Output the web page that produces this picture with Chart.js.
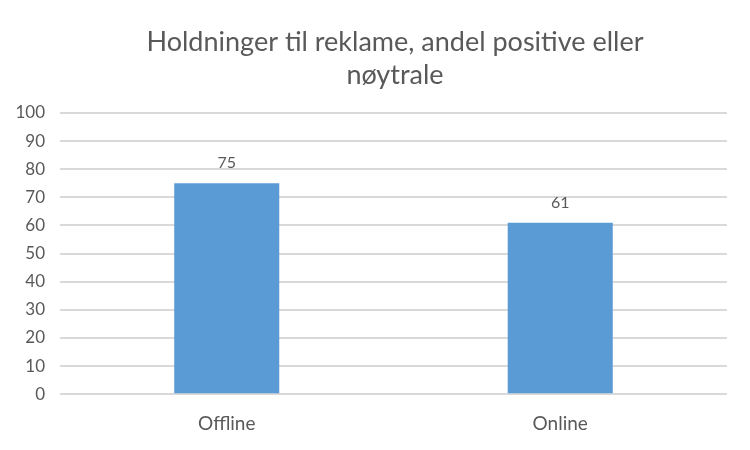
<!DOCTYPE html>
<html>
<head>
<meta charset="utf-8">
<script src="https://cdn.jsdelivr.net/npm/chart.js@4"></script>
<style>
	html, body { margin: 0; padding: 0; background: #fff; }
	#wrap { width: 750px; height: 450px; }
</style>
</head>
<body>
<div id="wrap"><canvas id="chart"></canvas></div>
<script>
const categories = ["Offline", "Online"];
const values = [75, 61];
const titleLines = ["Holdninger til reklame, andel positive eller", "nøytrale"];

const textColor = "#595959";
const fontFamily = "Lato, 'Liberation Sans', sans-serif";

// draws the value above every bar
const valueLabels = {
	id: "valueLabels",
	afterDatasetsDraw(chart) {
		const ctx = chart.ctx;
		const meta = chart.getDatasetMeta(0);
		ctx.save();
		ctx.fillStyle = textColor;
		ctx.font = "16px " + fontFamily;
		ctx.textAlign = "center";
		ctx.textBaseline = "bottom";
		meta.data.forEach((bar, i) => {
			ctx.fillText(chart.data.datasets[0].data[i], bar.x, bar.y - 12);
		});
		ctx.restore();
	}
};

// two-line title, centred a bit right of the plot like the original
const chartTitle = {
	id: "chartTitle",
	afterDraw(chart) {
		const ctx = chart.ctx;
		ctx.save();
		ctx.fillStyle = textColor;
		ctx.font = "27px " + fontFamily;
		ctx.textAlign = "center";
		ctx.textBaseline = "middle";
		titleLines.forEach((line, i) => {
			ctx.fillText(line, 395, 42 + i * 33);
		});
		ctx.restore();
	}
};

const config = {
	type: 'bar',
	data: {
		labels: categories,
		datasets: [{
			data: values,
			backgroundColor: '#5b9bd5',
			categoryPercentage: 1,
			barPercentage: 0.315,
		}],
	},
	options: {
		responsive: false,
		animation: false,
		layout: {
			padding: { top: 113, right: 23, left: 0, bottom: 5 }
		},
		plugins: {
			legend: { display: false },
			tooltip: { enabled: false },
			title: { display: false }
		},
		scales: {
			x: {
				grid: { display: false },
				border: { display: false },
				ticks: { color: textColor, font: { family: fontFamily, size: 19 }, padding: 10 }
			},
			y: {
				min: 0,
				max: 100,
				afterFit: (scale) => { scale.width = 60; },
				grid: { color: '#d9d9d9', lineWidth: 2, drawTicks: false },
				border: { display: false },
				ticks: { stepSize: 10, color: textColor, font: { family: fontFamily, size: 17 }, padding: 15 }
			}
		}
	},
	plugins: [valueLabels, chartTitle]
};

const canvas = document.getElementById("chart");
canvas.width = 750;
canvas.height = 450;
const chart = new Chart(canvas, config);
</script>
</body>
</html>
